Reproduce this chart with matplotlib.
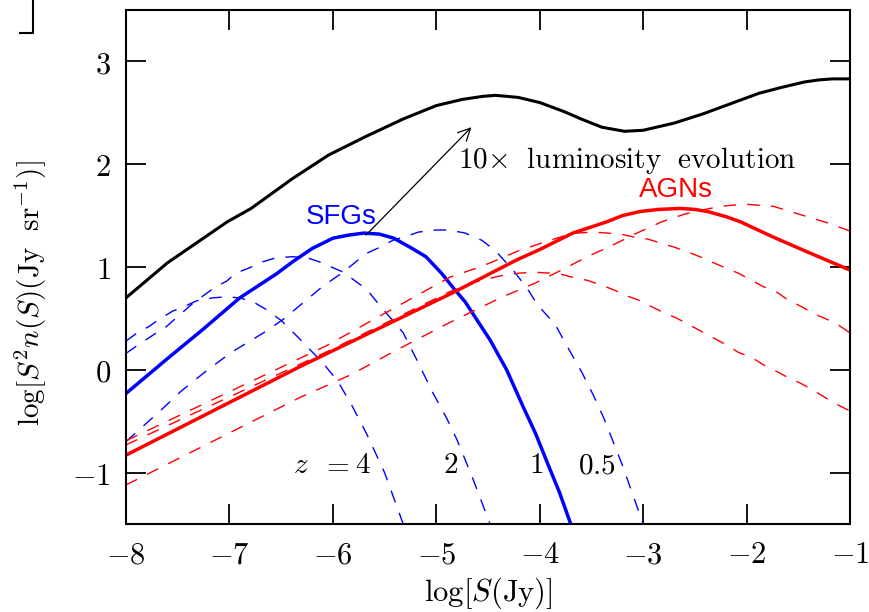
import matplotlib
matplotlib.use("Agg")
import matplotlib.pyplot as plt
from matplotlib.lines import Line2D
from matplotlib.ticker import FuncFormatter, FixedLocator

plt.rcParams['mathtext.fontset'] = 'cm'
plt.rcParams['font.family'] = ['DejaVu Serif']

# ---------------- data (log S [Jy], log S^2 n(S)) ----------------
total_x = [-8.0, -7.6, -7.02, -6.79, -6.39, -6.04, -5.68, -5.32, -5.0, -4.75, -4.55, -4.43,
           -4.21, -4.0, -3.76, -3.6, -3.4, -3.18, -3.0, -2.7, -2.42, -2.15, -1.88, -1.65,
           -1.44, -1.3, -1.17, -1.0]
total_y = [0.70, 1.04, 1.44, 1.57, 1.86, 2.09, 2.27, 2.44, 2.57, 2.63, 2.66, 2.67,
           2.65, 2.60, 2.51, 2.44, 2.36, 2.32, 2.33, 2.40, 2.49, 2.59, 2.69, 2.75,
           2.80, 2.82, 2.83, 2.83]

sfg_z1_x = [-8.0, -7.61, -7.26, -6.9, -6.55, -6.39, -6.2, -6.0, -5.85, -5.7, -5.55, -5.41,
            -5.25, -5.1, -4.95, -4.83, -4.72, -4.61, -4.48, -4.32, -4.16, -4.04, -3.92, -3.81, -3.7]
sfg_z1_y = [-0.23, 0.10, 0.39, 0.70, 0.93, 1.05, 1.18, 1.28, 1.31, 1.33, 1.32, 1.28,
            1.19, 1.10, 0.94, 0.79, 0.66, 0.49, 0.29, 0.0, -0.36, -0.62, -0.92, -1.19, -1.5]

sfg_z4_x = [-8.0, -7.89, -7.78, -7.68, -7.55, -7.45, -7.32, -7.16, -7.03, -6.9, -6.77,
            -6.65, -6.5, -6.32, -6.1, -5.96, -5.83, -5.67, -5.5, -5.32]
sfg_z4_y = [0.28, 0.36, 0.42, 0.49, 0.57, 0.61, 0.67, 0.70, 0.71, 0.70, 0.66,
            0.59, 0.48, 0.30, 0.07, -0.10, -0.32, -0.63, -1.0, -1.5]

sfg_z2_x = [-8.0, -7.9, -7.81, -7.69, -7.61, -7.35, -7.13, -7.03, -6.94, -6.81, -6.68,
            -6.55, -6.39, -6.25, -6.13, -5.9, -5.67, -5.55, -5.32, -5.2, -5.03, -4.9, -4.8,
            -4.65, -4.48]
sfg_z2_y = [0.16, 0.23, 0.29, 0.37, 0.42, 0.65, 0.81, 0.86, 0.94, 0.99, 1.05,
            1.09, 1.10, 1.09, 1.05, 0.95, 0.78, 0.63, 0.36, 0.12, -0.23, -0.47, -0.68,
            -1.05, -1.5]

sfg_z05_x = [-8.0, -7.87, -7.68, -7.47, -7.21, -6.98, -6.67, -6.48, -6.1, -5.9, -5.68,
             -5.55, -5.42, -5.32, -5.17, -5.0, -4.88, -4.72, -4.56, -4.43, -4.25, -4.12, -4.02,
             -3.85, -3.73, -3.59, -3.48, -3.38, -3.2, -3.0]
sfg_z05_y = [-0.70, -0.58, -0.41, -0.21, 0.0, 0.17, 0.36, 0.49, 0.81, 0.95, 1.13,
             1.19, 1.26, 1.29, 1.34, 1.36, 1.36, 1.33, 1.26, 1.16, 0.96, 0.79, 0.63,
             0.44, 0.22, -0.03, -0.25, -0.47, -0.93, -1.5]

agn_z1_x = [-8.0, -6.32, -4.82, -4.22, -4.0, -3.68, -3.5, -3.35, -3.2, -3.03, -2.85, -2.64,
            -2.5, -2.38, -2.2, -2.06, -1.74, -1.42, -1.0]
agn_z1_y = [-0.83, 0.03, 0.76, 1.07, 1.17, 1.33, 1.39, 1.44, 1.50, 1.54, 1.56, 1.57,
            1.56, 1.54, 1.49, 1.44, 1.29, 1.15, 0.97]

agn_z05_x = [-8.0, -6.32, -5.83, -5.35, -4.87, -4.38, -4.03, -3.79, -3.54, -3.3, -3.06,
             -2.82, -2.58, -2.45, -2.3, -2.16, -2.0, -1.87, -1.74, -1.61, -1.48, -1.22, -1.0]
agn_z05_y = [-1.12, -0.27, -0.05, 0.21, 0.46, 0.70, 0.85, 0.97, 1.10, 1.21, 1.33,
             1.44, 1.52, 1.55, 1.58, 1.60, 1.61, 1.60, 1.59, 1.55, 1.51, 1.43, 1.35]

agn_z2_x = [-8.0, -6.07, -4.87, -4.61, -4.48, -4.2, -3.9, -3.74, -3.64, -3.48, -3.35, -3.22,
            -3.08, -2.95, -2.82, -2.69, -2.58, -2.45, -2.34, -2.2, -2.08, -1.95,
            -1.84, -1.7, -1.6, -1.46, -1.36, -1.22, -1.12, -1.0]
agn_z2_y = [-0.69, 0.23, 0.90, 0.99, 1.04, 1.16, 1.26, 1.31, 1.33, 1.34, 1.33, 1.32,
            1.29, 1.27, 1.23, 1.19, 1.15, 1.10, 1.05, 0.99, 0.94, 0.87,
            0.81, 0.75, 0.68, 0.61, 0.55, 0.49, 0.44, 0.36]

agn_z4_x = [-8.0, -6.07, -4.87, -4.61, -4.35, -4.2, -4.06, -3.9, -3.8, -3.68, -3.54, -3.42,
            -3.29, -3.16, -3.05, -2.91, -2.81, -2.67, -2.56, -2.43, -2.32, -2.19,
            -2.08, -1.95, -1.84, -1.7, -1.61, -1.48, -1.37, -1.24, -1.12, -1.0]
agn_z4_y = [-0.73, 0.17, 0.76, 0.86, 0.92, 0.94, 0.95, 0.94, 0.93, 0.90, 0.87, 0.83,
            0.78, 0.72, 0.68, 0.61, 0.56, 0.50, 0.44, 0.37, 0.31, 0.24,
            0.17, 0.12, 0.05, -0.02, -0.07, -0.13, -0.19, -0.27, -0.34, -0.40]

x_ticks = [-8, -7, -6, -5, -4, -3, -2, -1]
y_ticks = [-1, 0, 1, 2, 3]
z_labels = ["z", "=", "4", "2", "1", "0.5"]
z_label_x = [-6.31, -5.98, -5.71, -4.86, -4.03, -3.45]
z_label_y = -0.93
arrow_start = (-5.68, 1.31)
arrow_end = (-4.66, 2.36)

# ---------------- figure ----------------
fig = plt.figure(figsize=(8.7, 6.12), dpi=100)
ax = fig.add_axes([126/870, 88/612, 724/870, 514/612])

dash = (0, (9, 8))
ax.plot(total_x, total_y, color='black', lw=2.2, solid_joinstyle='round')
for xs, ys in [(sfg_z4_x, sfg_z4_y), (sfg_z2_x, sfg_z2_y), (sfg_z05_x, sfg_z05_y)]:
    ax.plot(xs, ys, color='#0000ff', lw=1.0, linestyle=dash)
ax.plot(sfg_z1_x, sfg_z1_y, color='#0000ff', lw=2.5, solid_joinstyle='round')
for xs, ys in [(agn_z4_x, agn_z4_y), (agn_z2_x, agn_z2_y), (agn_z05_x, agn_z05_y)]:
    ax.plot(xs, ys, color='#ff0000', lw=1.0, linestyle=dash)
ax.plot(agn_z1_x, agn_z1_y, color='#ff0000', lw=2.5, solid_joinstyle='round')

ax.set_xlim(-8, -1)
ax.set_ylim(-1.5, 3.5)
ax.xaxis.set_major_locator(FixedLocator(x_ticks))
ax.yaxis.set_major_locator(FixedLocator(y_ticks))
fmt = FuncFormatter(lambda v, p: r'$%d$' % int(round(v)))
ax.xaxis.set_major_formatter(fmt)
ax.yaxis.set_major_formatter(fmt)
ax.tick_params(which='major', direction='in', length=14.5, width=1.3,
               top=True, right=True, labelsize=22, pad=11)
for s in ax.spines.values():
    s.set_linewidth(1.5)

ax.set_xlabel(r'$\log[S(\mathrm{Jy})]$', fontsize=22, labelpad=4)
ax.set_ylabel(r'$\log[S^2 n(S)(\mathrm{Jy\ \ sr^{-1}})]$', fontsize=21)
ax.yaxis.set_label_coords(-0.106, 0.45)

ax.text(-5.92, 1.49, 'SFGs', color='#0000ff', fontsize=20, family='Liberation Sans',
        ha='center', va='center')
ax.text(-2.68, 1.75, 'AGNs', color='#ff0000', fontsize=20, family='Liberation Sans',
        ha='center', va='center')

ax.annotate('', xy=arrow_end, xytext=arrow_start,
            arrowprops=dict(arrowstyle='->', color='black', lw=0.9,
                            mutation_scale=22, shrinkA=0, shrinkB=0))
ax.text(-4.79, 2.04, r'$\mathrm{10{\times}\ \ luminosity\ \ evolution}$', fontsize=21,
        ha='left', va='center')

for lab, xv in zip(z_labels, z_label_x):
    s = r'$z$' if lab == 'z' else ('$' + lab + '$' if lab != '=' else '$=$')
    ax.text(xv, z_label_y, s, fontsize=21, ha='center', va='center')

# cut-off bracket at top-left corner
fig.add_artist(Line2D([33/870, 33/870, 20/870], [1.0, 1 - 33/612, 1 - 33/612],
                      transform=fig.transFigure, color='black', lw=1.5))

fig.savefig('out.png', dpi=100)
